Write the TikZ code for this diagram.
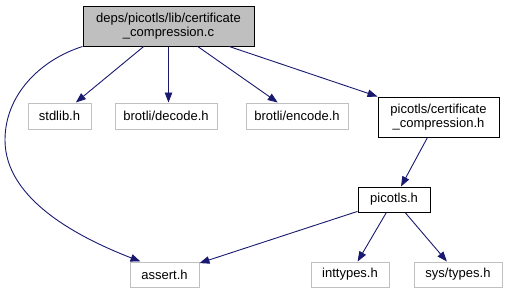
\documentclass[tikz,border=0pt]{standalone}
\usepackage{fontspec}
\setmainfont{Liberation Sans}
\usetikzlibrary{arrows.meta,calc}
\definecolor{edgeblue}{HTML}{191970}
\definecolor{boxgray}{HTML}{BFBFBF}
\definecolor{linegray}{HTML}{C0C0C0}
\begin{document}
\begin{tikzpicture}[x=1pt,y=-1pt,
  every node/.style={font=\fontsize{13}{13.5}\selectfont, inner sep=0pt, align=center},
  filebox/.style={draw=black, line width=1pt},
  extbox/.style={draw=linegray, line width=1pt},
  dep/.style={draw=edgeblue, line width=0.9pt, -{Triangle[length=10pt,width=7.5pt]}}]
\useasboundingbox (0,0) rectangle (510,293);
% main file
\node[filebox, fill=boxgray, minimum width=171pt, minimum height=40pt] (main) at (168.5,26)
  {deps/picotls/lib/certificate\\\_compression.c};
% headers
\node[extbox, minimum width=63pt, minimum height=26pt] (stdlib) at (59.5,116) {stdlib.h};
\node[extbox, minimum width=102pt, minimum height=26pt] (bdec) at (166,116) {brotli/decode.h};
\node[extbox, minimum width=102pt, minimum height=26pt] (benc) at (297,116) {brotli/encode.h};
\node[filebox, minimum width=121pt, minimum height=40pt] (cch) at (438.5,117)
  {picotls/certificate\\\_compression.h};
\node[filebox, minimum width=72pt, minimum height=25pt] (picotls) at (394,199.5) {picotls.h};
\node[extbox, minimum width=69pt, minimum height=25pt] (assert) at (164.5,274.5) {assert.h};
\node[extbox, minimum width=78pt, minimum height=25pt] (inttypes) at (350,274.5) {inttypes.h};
\node[extbox, minimum width=88pt, minimum height=25pt] (systypes) at (458,274.5) {sys/types.h};
% include edges
\draw[dep] (main.south west) .. controls (40,60) and (5,95) .. (5,140)
  .. controls (5,200) and (80,238) .. ($(assert.north west)+(11,0)$);
\draw[dep] (main) -- (stdlib);
\draw[dep] (main.south) -- (main.south |- bdec.north);
\draw[dep] (main) -- (benc);
\draw[dep] (main) -- (cch);
\draw[dep] (cch) -- (picotls);
\draw[dep] (picotls) -- (assert);
\draw[dep] (picotls) -- (inttypes);
\draw[dep] (picotls) -- (systypes);
\end{tikzpicture}
\end{document}
